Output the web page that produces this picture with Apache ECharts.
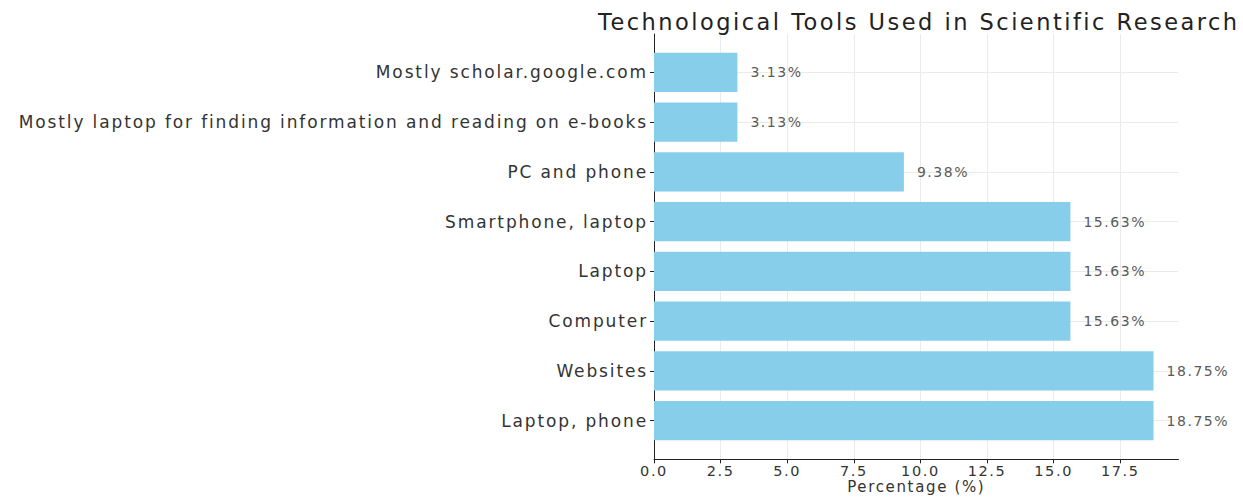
<!DOCTYPE html>
<html>
<head>
<meta charset="utf-8">
<script src="https://cdn.jsdelivr.net/npm/echarts@6/dist/echarts.min.js"></script>
<style>
  html, body { margin: 0; padding: 0; background: #ffffff; }
  #chart { width: 1243px; height: 498px; }
  #chart text { letter-spacing: 0.11em; }
</style>
</head>
<body>
<div id="chart"></div>
<script>
// Data (top-to-bottom order as shown)
const categories = [
  "Mostly scholar.google.com",
  "Mostly laptop for finding information and reading on e-books",
  "PC and phone",
  "Smartphone, laptop",
  "Laptop",
  "Computer",
  "Websites",
  "Laptop, phone"
];
const percentages = [3.13, 3.13, 9.38, 15.63, 15.63, 15.63, 18.75, 18.75];
const xTickValues = [0, 2.5, 5, 7.5, 10, 12.5, 15, 17.5];
const titleText = "Technological Tools Used in Scientific Research";
const xAxisTitle = "Percentage (%)";

const xMax = 19.6875;
const font = "DejaVu Sans";
const textColor = "#333333";

const chart = echarts.init(document.getElementById('chart'), null, { renderer: 'svg' });

const option = {
  backgroundColor: '#ffffff',
  animation: false,
  textStyle: { fontFamily: font },
  title: {
    text: titleText,
    left: 593,
    top: 5,
    textStyle: { fontFamily: font, fontSize: 22.5, fontWeight: 'normal', color: '#222222' }
  },
  grid: [
    { left: 654, right: 64.5, top: 34, bottom: 38.7, outerBoundsMode: 'none', containLabel: false },
    { left: 654, right: 64.5, top: 47.4, bottom: 52.4, outerBoundsMode: 'none', containLabel: false }
  ],
  xAxis: [
    {
      type: 'value', gridIndex: 0, min: 0, max: xMax, interval: 2.5,
      name: xAxisTitle, nameLocation: 'middle', nameGap: 20.5, nameMoveOverlap: false,
      nameTextStyle: { fontFamily: font, fontSize: 15, color: textColor },
      axisLine: { show: true, lineStyle: { color: '#222222', width: 1 } },
      axisTick: { show: true, length: 4, customValues: xTickValues, lineStyle: { color: '#222222' } },
      axisLabel: {
        fontFamily: font, fontSize: 14.5, color: textColor, margin: 4,
        customValues: xTickValues,
        formatter: function (v) { return xTickValues.indexOf(v) >= 0 ? v.toFixed(1) : ''; }
      },
      splitLine: { show: true, lineStyle: { color: '#ebebeb', width: 1 } }
    },
    {
      type: 'value', gridIndex: 1, min: 0, max: xMax, show: false
    }
  ],
  yAxis: [
    {
      type: 'value', gridIndex: 0, min: 0, max: 1,
      axisLine: { show: true, lineStyle: { color: '#222222', width: 1 } },
      axisTick: { show: false }, axisLabel: { show: false }, splitLine: { show: false }
    },
    {
      type: 'category', gridIndex: 1, data: categories, inverse: true,
      axisLine: { show: false },
      axisTick: { show: true, alignWithLabel: true, length: 4, lineStyle: { color: '#222222' } },
      axisLabel: { fontFamily: font, fontSize: 17, color: textColor, margin: 6 },
      splitLine: { show: false }
    }
  ],
  series: [
    {
      type: 'bar',
      xAxisIndex: 1, yAxisIndex: 1,
      data: percentages,
      barCategoryGap: '21%',
      z: 2,
      itemStyle: { color: '#87CEEB' },
      label: {
        show: true, position: 'right', distance: 13,
        fontFamily: font, fontSize: 14, color: '#5a5a5a',
        formatter: function (p) { return p.value.toFixed(2) + '%'; }
      },
      markLine: {
        silent: true, z: 1, symbol: ['none', 'none'],
        label: { show: false },
        lineStyle: { color: '#ebebeb', width: 1, type: 'solid' },
        data: categories.map(function (c) { return { yAxis: c }; })
      }
    }
  ]
};

chart.setOption(option);
</script>
</body>
</html>
